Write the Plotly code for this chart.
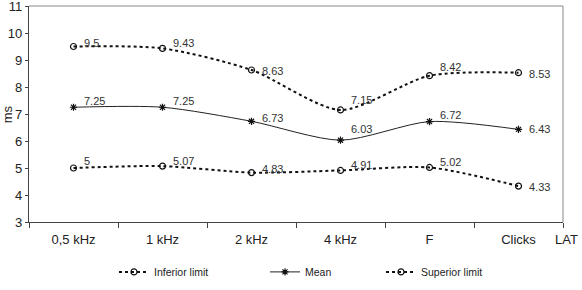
import plotly.graph_objects as go

categories = ["0,5 kHz", "1 kHz", "2 kHz", "4 kHz", "F", "Clicks"]
inferior = [5, 5.07, 4.83, 4.91, 5.02, 4.33]
mean = [7.25, 7.25, 6.73, 6.03, 6.72, 6.43]
superior = [9.5, 9.43, 8.63, 7.15, 8.42, 8.53]
y_ticks = [3, 4, 5, 6, 7, 8, 9, 10, 11]

# label offsets (px, upward) per point — style only
inf_lift = [7, 5, 4, 5, 5, -1]
mean_lift = [6, 6, 3, 11, 7, 0]
sup_lift = [4, 5, -1, 10, 9, -1]

FONT = "Liberation Sans, Arial, sans-serif"
SMOOTH = 0.75

def fmt(v):
    return "%g" % v

fig = go.Figure()
series = [
    ("Inferior limit", inferior, dict(color="#111", width=2, dash="dot"), "circle-open", 6, "legend"),
    ("Mean", mean, dict(color="#222", width=1), "asterisk-open", 6, "legend2"),
    ("Superior limit", superior, dict(color="#111", width=2, dash="dot"), "circle-open", 6, "legend3"),
]
for name, vals, ln, sym, sz, lg in series:
    fig.add_trace(go.Scatter(
        x=categories, y=vals, name=name, mode="lines+markers", legend=lg,
        line=dict(shape="spline", smoothing=SMOOTH, **ln),
        marker=dict(symbol=sym, size=sz, color="#111", line=dict(width=1.2)),
    ))

annotations = []
for vals, lifts in [(inferior, inf_lift), (mean, mean_lift), (superior, sup_lift)]:
    for c, v, lift in zip(categories, vals, lifts):
        annotations.append(dict(
            x=c, y=v, text=fmt(v), showarrow=False, xanchor="left", yanchor="middle",
            xshift=8, yshift=lift, font=dict(family=FONT, size=11, color="#333")))

annotations += [
    dict(text="LAT", xref="paper", yref="paper", x=1.0065, y=-0.08, xanchor="center",
         yanchor="middle", showarrow=False, font=dict(family=FONT, size=13, color="#222")),
    dict(text="ms", xref="paper", yref="paper", x=-0.0405, y=0.5, textangle=-90,
         xanchor="center", yanchor="middle", showarrow=False,
         font=dict(family=FONT, size=13, color="#222")),
]

legfont = dict(family=FONT, size=10.5, color="#222")
def leg(xpx):
    return dict(orientation="h", x=(xpx - 29) / 534, xanchor="left", y=-0.231,
                yanchor="middle", font=legfont, bgcolor="rgba(0,0,0,0)")

fig.update_layout(
    width=582, height=290,
    margin=dict(l=29, r=19, t=6, b=68, autoexpand=False),
    paper_bgcolor="white", plot_bgcolor="white",
    font=dict(family=FONT, size=13, color="#222"),
    showlegend=True,
    legend=leg(114), legend2=leg(265), legend3=leg(381),
    xaxis=dict(
        type="category", range=[-0.5, 5.5], tickson="boundaries",
        ticks="outside", ticklen=5, tickcolor="#444", ticklabelstandoff=5,
        showline=True, linecolor="#444", linewidth=1.2,
        showgrid=False, zeroline=False, automargin=False,
        tickfont=dict(family=FONT, size=13, color="#222"),
    ),
    yaxis=dict(
        range=[3, 11.0001], tickvals=y_ticks, ticks="outside", ticklen=3, tickcolor="#444",
        showline=True, linecolor="#444", linewidth=1.2, showgrid=False, zeroline=False,
        ticklabeloverflow="allow", automargin=False,
        tickfont=dict(family=FONT, size=13, color="#222"),
    ),
    shapes=[
        dict(type="line", xref="paper", yref="paper", x0=0, x1=1, y0=1, y1=1,
             line=dict(color="#888", width=1)),
        dict(type="line", xref="paper", yref="paper", x0=1, x1=1, y0=0, y1=1,
             line=dict(color="#888", width=1)),
    ],
    annotations=annotations,
)

fig.write_html("out.html")
